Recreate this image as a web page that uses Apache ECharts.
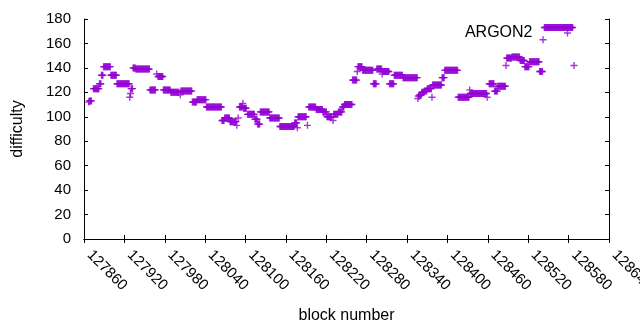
<!DOCTYPE html>
<html>
<head>
<meta charset="utf-8">
<script src="https://cdn.jsdelivr.net/npm/echarts@6/dist/echarts.min.js"></script>
<style>
  html, body { margin: 0; background: #fff; }
  #chart { width: 640px; height: 330px; }
</style>
</head>
<body>
<div id="chart"></div>
<script>
// difficulty per block, stored as runs of blocks with the same difficulty
var runFirst = [127867, 127868, 127874, 127883, 127886, 127889, 127900, 127909, 127928, 127929,
  127930, 127933, 127937, 127958, 127968, 127970, 127978, 127989, 128003, 128004,
  128021, 128028, 128042, 128065, 128069, 128077, 128087, 128089, 128091, 128096,
  128097, 128103, 128114, 128118, 128122, 128136, 128151, 128173, 128177, 128178,
  128192, 128194, 128205, 128215, 128221, 128230, 128231, 128238, 128244, 128247,
  128259, 128266, 128267, 128274, 128290, 128295, 128303, 128304, 128314, 128321,
  128334, 128356, 128357, 128359, 128362, 128366, 128370, 128377, 128378, 128392,
  128396, 128416, 128433, 128434, 128459, 128462, 128470, 128475, 128487, 128488,
  128496, 128508, 128515, 128522, 128537, 128542, 128544, 128588];
var runLast = [127867, 127871, 127882, 127885, 127888, 127899, 127908, 127927, 127928, 127929,
  127932, 127936, 127957, 127966, 127968, 127977, 127988, 128001, 128003, 128020,
  128027, 128041, 128064, 128068, 128076, 128086, 128087, 128089, 128095, 128096,
  128101, 128113, 128117, 128121, 128135, 128150, 128172, 128176, 128177, 128190,
  128192, 128204, 128214, 128220, 128228, 128230, 128237, 128243, 128246, 128258,
  128265, 128266, 128273, 128289, 128294, 128302, 128303, 128313, 128320, 128333,
  128355, 128356, 128358, 128361, 128365, 128369, 128376, 128377, 128391, 128395,
  128415, 128432, 128433, 128458, 128459, 128469, 128474, 128486, 128487, 128495,
  128507, 128514, 128521, 128536, 128541, 128542, 128586, 128588];
var runDifficulty = [112, 113, 123, 127, 134, 141, 134, 127, 116, 119,
  123, 140, 139, 122, 135, 133, 122, 120, 118, 121,
  112, 114, 108, 97, 99, 96, 93, 99, 108, 111,
  107, 102, 98, 94, 104, 99, 92, 95, 91, 100,
  93, 108, 106, 104, 100, 97, 102, 104, 108, 110,
  130, 137, 141, 138, 127, 139, 135, 137, 127, 134,
  132, 115, 117, 118, 120, 121, 123, 116, 126, 132,
  138, 116, 122, 119, 116, 127, 121, 125, 142, 148,
  149, 146, 141, 145, 137, 163, 173, 142];

var seriesName = 'ARGON2';
var xMin = 127860, xMax = 128640, xStep = 60;
var yMin = 0, yMax = 180, yStep = 20;

var points = [];
for (var i = 0; i < runFirst.length; i++) {
  for (var b = runFirst[i]; b <= runLast[i]; b++) {
    points.push([b, runDifficulty[i]]);
  }
}

// gnuplot style "+" marker
var plus = 'path://M2.8,0h1.4v2.8h2.8v1.4h-2.8v2.8h-1.4v-2.8h-2.8v-1.4h2.8z';
var font = 'Liberation Sans';
var black = '#000';

var chart = echarts.init(document.getElementById('chart'));
chart.setOption({
  animation: false,
  grid: { left: 84, top: 19, width: 525, height: 220, outerBoundsMode: 'none' },
  legend: {
    data: [{ name: seriesName, icon: plus }],
    right: 64,
    top: 20,
    align: 'right',
    itemWidth: 60,
    itemHeight: 7,
    textStyle: { fontFamily: font, fontSize: 16, color: black }
  },
  xAxis: [
    {
      type: 'value', min: xMin, max: xMax, interval: xStep,
      name: 'block number', nameLocation: 'middle', nameGap: 69,
      nameTextStyle: { fontFamily: font, fontSize: 16, color: black },
      axisLine: { lineStyle: { color: black } },
      axisTick: { inside: true, length: 4, lineStyle: { color: black } },
      axisLabel: { rotate: -45, margin: 19, verticalAlign: 'bottom', fontFamily: font, fontSize: 15, color: black,
        showMinLabel: true, showMaxLabel: true,
        formatter: function (v) { return String(v); } },
      splitLine: { show: false }
    },
    {
      type: 'value', position: 'top', min: xMin, max: xMax, interval: xStep,
      axisLine: { lineStyle: { color: black } },
      axisTick: { inside: true, length: 4, lineStyle: { color: black } },
      axisLabel: { show: false },
      splitLine: { show: false }
    }
  ],
  yAxis: [
    {
      type: 'value', min: yMin, max: yMax, interval: yStep,
      name: 'difficulty', nameLocation: 'middle', nameGap: 58,
      nameTextStyle: { fontFamily: font, fontSize: 16, color: black },
      axisLine: { show: true, lineStyle: { color: black } },
      axisTick: { show: true, inside: true, length: 4, lineStyle: { color: black } },
      axisLabel: { margin: 13, fontFamily: font, fontSize: 15, color: black },
      splitLine: { show: false }
    },
    {
      type: 'value', position: 'right', min: yMin, max: yMax, interval: yStep,
      axisLine: { show: true, lineStyle: { color: black } },
      axisTick: { show: true, inside: true, length: 4, lineStyle: { color: black } },
      axisLabel: { show: false },
      splitLine: { show: false }
    }
  ],
  series: [
    {
      name: seriesName,
      type: 'scatter',
      symbol: plus,
      symbolSize: 7,
      itemStyle: { color: '#9400d3' },
      data: points
    }
  ]
});
</script>
</body>
</html>
